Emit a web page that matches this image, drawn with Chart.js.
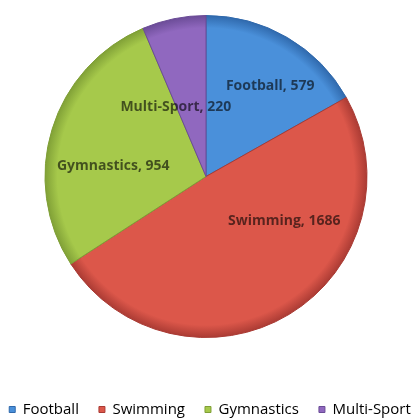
<!DOCTYPE html>
<html>
<head>
<meta charset="utf-8">
<script src="https://cdn.jsdelivr.net/npm/chart.js@4"></script>
<style>
  html, body { margin: 0; padding: 0; background: #fff; overflow: hidden; }
  #wrap { width: 412px; height: 418px; }
</style>
</head>
<body>
<div id="wrap"><canvas id="sportsPie" width="412" height="418"></canvas></div>
<script>
const sports = ['Football', 'Swimming', 'Gymnastics', 'Multi-Sport'];
const entries = [579, 1686, 954, 220];

const baseColors = ['#4a90da', '#dc574a', '#a6c94b', '#9068bf'];
const rimColors = ['#2f68ab', '#a93a33', '#7f9f36', '#6a4b96'];
// where each slice label sits: [degrees off the slice middle, fraction of radius]
const labelSpots = [[5, 0.69], [-29, 0.56], [-10.5, 0.58], [-12, 0.47]];

// radial shading so each slice darkens near the rim
function sliceFill(context) {
  const i = context.dataIndex;
  const area = context.chart.chartArea;
  if (!area) return baseColors[i];
  const cx = (area.left + area.right) / 2;
  const cy = (area.top + area.bottom) / 2;
  const r = Math.min(area.right - area.left, area.bottom - area.top) / 2;
  const g = context.chart.ctx.createRadialGradient(cx, cy, 0, cx, cy, r);
  g.addColorStop(0, baseColors[i]);
  g.addColorStop(0.92, baseColors[i]);
  g.addColorStop(1, rimColors[i]);
  return g;
}

const sliceLabels = {
  id: 'sliceLabels',
  afterDatasetsDraw(chart) {
    const c = chart.ctx;
    const arcs = chart.getDatasetMeta(0).data;
    c.save();
    c.font = 'bold 14px "Open Sans"';
    c.fillStyle = 'rgba(0, 0, 0, 0.6)';
    c.textAlign = 'center';
    c.textBaseline = 'middle';
    arcs.forEach((arc, i) => {
      const [shift, frac] = labelSpots[i];
      const a = (arc.startAngle + arc.endAngle) / 2 + shift * Math.PI / 180;
      const r = arc.outerRadius * frac;
      c.fillText(sports[i] + ', ' + entries[i], arc.x + Math.cos(a) * r, arc.y + Math.sin(a) * r);
    });
    c.restore();
  }
};

// push the legend row down toward the bottom edge and nudge it right a little
const legendDrop = {
  id: 'legendDrop',
  afterLayout(chart) {
    const lg = chart.legend;
    lg.top += 44;
    lg.bottom += 44;
    lg.left += 4;
    lg.right += 4;
  }
};

const ctx = document.getElementById('sportsPie').getContext('2d');
const sportsPie = new Chart(ctx, {
  type: 'pie',
  data: {
    labels: sports,
    datasets: [{
      data: entries,
      backgroundColor: sliceFill,
      borderColor: rimColors,
      borderWidth: 1
    }]
  },
  options: {
    responsive: false,
    animation: false,
    // negative sides give the single legend row enough width
    layout: { padding: { top: 15, bottom: 35, left: -15, right: -15 } },
    plugins: {
      tooltip: { enabled: false },
      legend: {
        position: 'bottom',
        labels: {
          boxWidth: 6,
          boxHeight: 6,
          padding: 20,
          color: '#606060',
          font: { family: '"Open Sans"', size: 15 },
          generateLabels(chart) {
            return sports.map((name, i) => ({
              text: name,
              fillStyle: baseColors[i],
              strokeStyle: rimColors[i],
              lineWidth: 1,
              index: i
            }));
          }
        }
      }
    }
  },
  plugins: [sliceLabels, legendDrop]
});
</script>
</body>
</html>
